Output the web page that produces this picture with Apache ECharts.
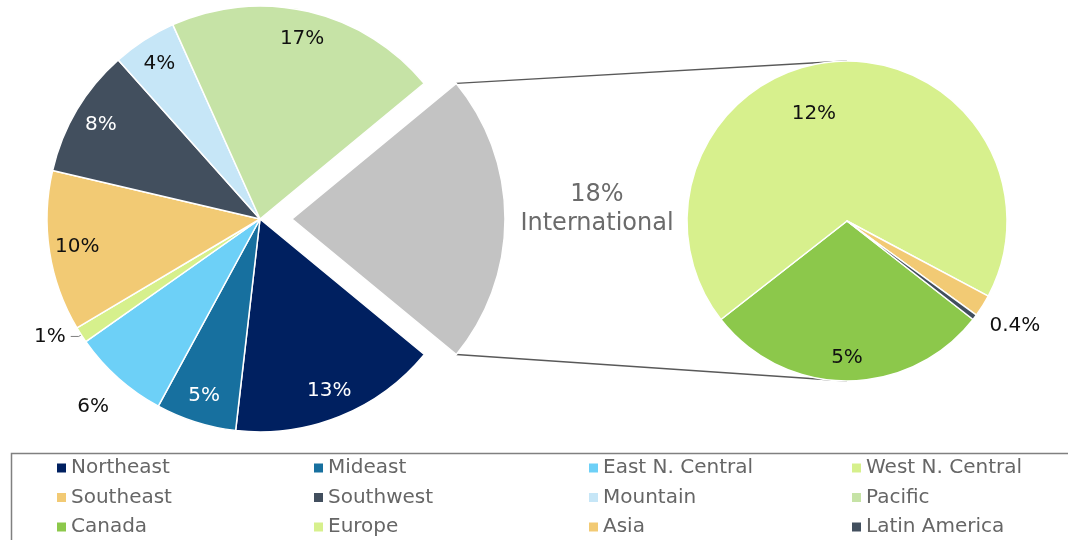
<!DOCTYPE html>
<html>
<head>
<meta charset="utf-8">
<style>
  html, body { margin: 0; padding: 0; background: #fff; }
  #chart { width: 1068px; height: 540px; }
</style>
<script src="https://cdn.jsdelivr.net/npm/echarts@6/dist/echarts.min.js"></script>
</head>
<body>
<div id="chart"></div>
<script>
// Left pie: domestic regions + International (exploded)
const leftNames = ['Northeast', 'Mideast', 'East N. Central', 'West N. Central', 'Southeast', 'Southwest', 'Mountain', 'Pacific', 'International'];
const leftValues = [13, 5, 6, 1, 10, 8, 4, 17, 18];
const leftLabels = ['13%', '5%', '6%', '1%', '10%', '8%', '4%', '17%', '18%'];

// Right pie: breakdown of International
const rightNames = ['Canada', 'Europe', 'Asia', 'Latin America'];
const rightValues = [5.2, 12.3, 0.4, 0.1];
const rightLabels = ['5%', '12%', '0.4%', ''];

// Legend, row by row (4 columns)
const legendOrder = [
  'Northeast', 'Mideast', 'East N. Central', 'West N. Central',
  'Southeast', 'Southwest', 'Mountain', 'Pacific',
  'Canada', 'Europe', 'Asia', 'Latin America'
];

const colors = {
  'Northeast': '#002060',
  'Mideast': '#17709f',
  'East N. Central': '#6dd0f7',
  'West N. Central': '#d6f08c',
  'Southeast': '#f2ca74',
  'Southwest': '#424f5e',
  'Mountain': '#c6e6f7',
  'Pacific': '#c6e3a6',
  'International': '#c3c3c3',
  'Canada': '#8cc84b',
  'Europe': '#d7f08d',
  'Asia': '#f2ca74',
  'Latin America': '#424f5e'
};
const darkText = '#111111';
const whiteOn = { 'Northeast': 1, 'Mideast': 1, 'Southwest': 1 };

const FONT = '"DejaVu Sans", Verdana, sans-serif';

// geometry
const L = { c: [260, 219], r: 213, start: -39.5, offset: 32 };
const R = { c: [847, 221], r: 160, start: -38 };

// label rings: [outer radius of transparent pie, indices whose label sits at its mid-radius]
const leftRings = [[364, [0, 1, 4, 5, 6, 7]], [496, [2]]];
const rightRings = [[268, [0]], [226, [1]], [390, [2]]];
// Excel nudged the Europe label off its bisector
const labelNudge = { 'Europe': [-23, 8] };

function labelRing(geo, ringR, names, values, labels, show) {
  return {
    type: 'pie',
    center: geo.c,
    radius: [0, ringR],
    startAngle: geo.start,
    silent: true,
    avoidLabelOverlap: false,
    animation: false,
    z: 5,
    itemStyle: { color: 'rgba(0,0,0,0)', borderWidth: 0 },
    emphasis: { disabled: true },
    labelLine: { show: false },
    data: names.map((n, i) => ({
      name: n,
      value: values[i],
      label: {
        show: show.indexOf(i) >= 0,
        position: 'inside',
        formatter: labels[i],
        fontFamily: FONT,
        fontSize: 20,
        offset: labelNudge[n] || [0, 0],
        color: whiteOn[n] ? '#ffffff' : darkText
      }
    }))
  };
}

const leftData = leftNames.map((n, i) => {
  const d = { name: n, value: leftValues[i], itemStyle: { color: colors[n] }, label: { show: false }, labelLine: { show: false } };
  if (n === 'West N. Central') {
    d.label = { show: true, position: 'outside', formatter: leftLabels[i], fontFamily: FONT, fontSize: 20, color: darkText };
    d.labelLine = { show: true, length: 3, length2: 8, lineStyle: { color: '#7f7f7f', width: 1 } };
  }
  if (n === 'International') {
    d.selected = true;
    d.label = {
      show: true,
      position: 'outside',
      distanceToLabelLine: 12,
      formatter: '{t|' + leftLabels[i] + '}\n{t|' + n + '}',
      padding: [0, 0, 20, 0],
      rich: { t: { fontFamily: FONT, fontSize: 24, lineHeight: 29, width: 160, align: 'center', color: '#6b6b6b' } }
    };
    d.labelLine = { show: false, length: 0, length2: 0 };
  }
  return d;
});

const rightData = rightNames.map((n, i) => ({
  name: n, value: rightValues[i], itemStyle: { color: colors[n] }, label: { show: false }
}));

// connector lines from exploded slice corners to top/bottom of right pie
const total = leftValues.reduce((a, b) => a + b, 0);
const iIdx = leftNames.indexOf('International');
const before = leftValues.slice(0, iIdx).reduce((a, b) => a + b, 0);
const cw0 = 90 - L.start;                                 // clockwise from 12 o'clock
const aStart = (cw0 + before / total * 360) * Math.PI / 180;
const aEnd = (cw0 + (before + leftValues[iIdx]) / total * 360) * Math.PI / 180;
const aMid = (aStart + aEnd) / 2;
const ox = L.c[0] + L.offset * Math.sin(aMid), oy = L.c[1] - L.offset * Math.cos(aMid);
const topCorner = [ox + L.r * Math.sin(aStart), oy - L.r * Math.cos(aStart)];
const botCorner = [ox + L.r * Math.sin(aEnd), oy - L.r * Math.cos(aEnd)];

// legends: one per column
const legends = [0, 1, 2, 3].map(col => ({
  orient: 'vertical',
  left: [57, 314, 589, 852][col],
  top: 458,
  padding: 0,
  data: legendOrder.filter((_, i) => i % 4 === col),
  icon: 'rect',
  itemWidth: 9,
  itemHeight: 9,
  itemGap: 9.5,
  selectedMode: false,
  itemStyle: { borderWidth: 0 },
  textStyle: { fontFamily: FONT, fontSize: 20, lineHeight: 20, color: '#666666' }
}));

const chart = echarts.init(document.getElementById('chart'));
chart.setOption({
  backgroundColor: '#ffffff',
  animation: false,
  legend: legends,
  series: [
    {
      type: 'pie',
      center: L.c,
      radius: [0, L.r],
      startAngle: L.start,
      selectedMode: 'single',
      selectedOffset: L.offset,
      avoidLabelOverlap: false,
      silent: true,
      itemStyle: { borderColor: '#ffffff', borderWidth: 1.5 },
      emphasis: { disabled: true },
      data: leftData
    },
    {
      type: 'pie',
      center: R.c,
      radius: [0, R.r],
      startAngle: R.start,
      avoidLabelOverlap: false,
      silent: true,
      itemStyle: { borderColor: '#ffffff', borderWidth: 1.5 },
      emphasis: { disabled: true },
      labelLine: { show: false },
      data: rightData
    },
    ...leftRings.map(([rr, idx]) => labelRing(L, rr, leftNames, leftValues, leftLabels, idx)),
    ...rightRings.map(([rr, idx]) => labelRing(R, rr, rightNames, rightValues, rightLabels, idx))
  ],
  graphic: [
    { type: 'line', shape: { x1: topCorner[0], y1: topCorner[1], x2: R.c[0], y2: R.c[1] - R.r }, style: { stroke: '#595959', lineWidth: 1.3 } },
    { type: 'line', shape: { x1: botCorner[0], y1: botCorner[1], x2: R.c[0], y2: R.c[1] + R.r }, style: { stroke: '#595959', lineWidth: 1.3 } },
    { type: 'rect', shape: { x: 11.5, y: 453.5, width: 1070, height: 120 }, style: { fill: 'none', stroke: '#808080', lineWidth: 1.5 } }
  ]
});
window.addEventListener('resize', () => chart.resize());
</script>
</body>
</html>
